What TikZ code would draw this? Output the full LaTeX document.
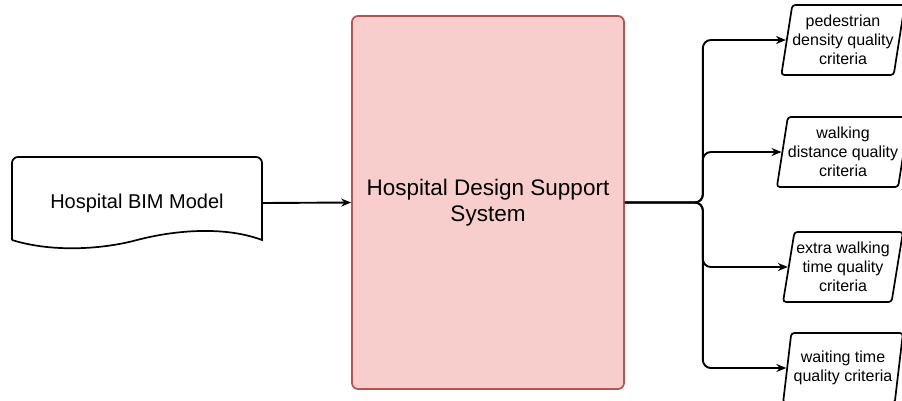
\documentclass[tikz,border=0pt]{standalone}
\usepackage{fontspec}
\setmainfont{Liberation Sans}
\usetikzlibrary{positioning,shapes.geometric,arrows.meta,calc}
\definecolor{sysfill}{HTML}{F8CECC}
\definecolor{sysdraw}{HTML}{B85450}
\begin{document}
\begin{tikzpicture}[x=1pt, y=-1pt, line width=1.7pt,
  crit/.style = {draw, trapezium, trapezium left angle=79, trapezium right angle=101,
    trapezium stretches=true, minimum width=120pt, minimum height=70pt,
    inner xsep=0pt, rounded corners=3pt, align=center, font=\fontsize{16}{19}\selectfont},
  arr/.style = {-{Stealth[length=10pt,width=8pt]}, line width=1.9pt}]
    \useasboundingbox (0,0) rectangle (902,400);

    % input document
    \draw (12,240) [rounded corners=6pt] -- (12,157) -- (262,157) [sharp corners] -- (262,240)
        .. controls (225,226) and (175,230) .. (137,240)
        .. controls (100,250) and (50,252) .. (12,240);
    \node[minimum width=250pt, minimum height=92pt, font=\fontsize{20}{24}\selectfont] (doc) at (137,203) {Hospital BIM Model};

    % support system
    \node[draw=sysdraw, fill=sysfill, rounded corners=6pt, minimum width=272pt, minimum height=373pt,
        align=center, font=\fontsize{22.5}{26}\selectfont] (sys) at (488,202.5) {Hospital Design Support\\System};

    % quality criteria
    \node[crit] (c1) at (843,40) {pedestrian\\density quality\\criteria};
    \node[crit] (c2) at (843,152) {walking\\distance quality\\criteria};
    \node[crit] (c3) at (843,267) {extra walking\\time quality\\criteria};
    \node[crit] (c4) at (843,368) {waiting time\\quality criteria};

    \coordinate (split) at ($(sys.east)+(78,0)$);

    \draw[arr] (doc.east) -- (sys.west);
    \foreach \c in {c1,c2,c3,c4}
        \draw[arr, rounded corners=8pt] (sys.east) -- (split) |- (\c.west);

\end{tikzpicture}
\end{document}
